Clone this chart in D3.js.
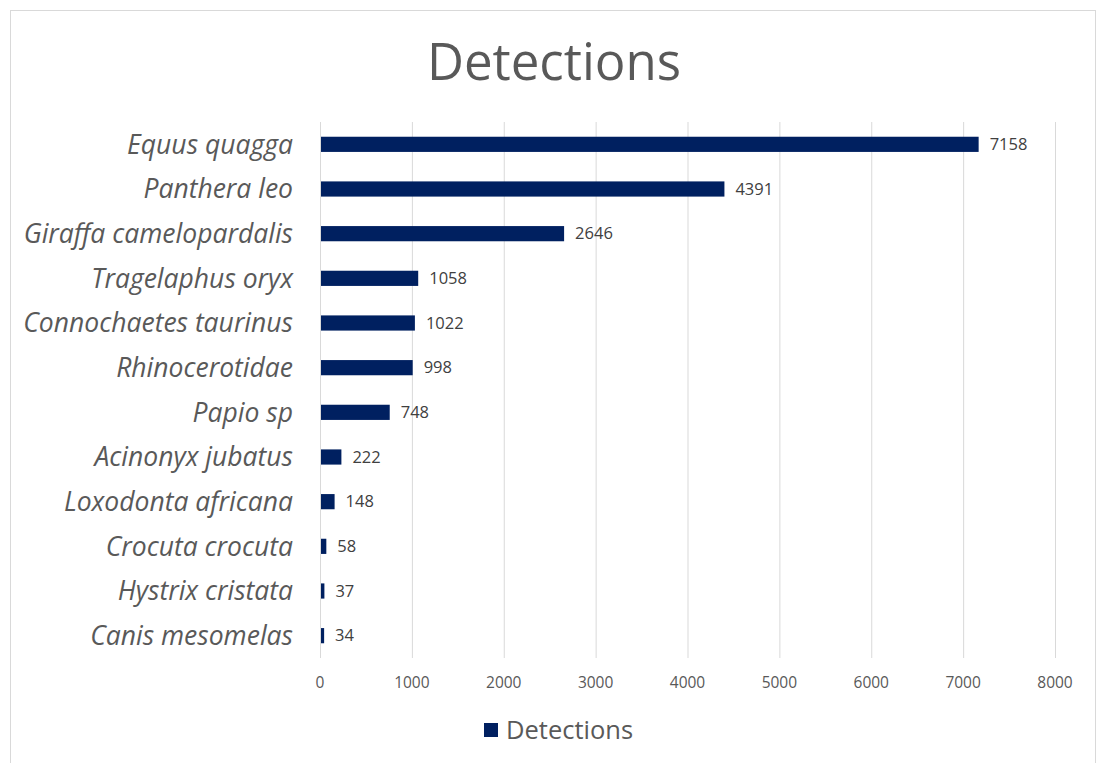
<!DOCTYPE html>
<html>
<head>
<meta charset="utf-8">
<script src="https://cdn.jsdelivr.net/npm/d3@7"></script>
<style>
  body { margin: 0; background: #fff; }
  text { font-family: "Open Sans", "Noto Sans", sans-serif; }
</style>
</head>
<body>
<div id="chart"></div>
<script>
// data
const species = ["Equus quagga", "Panthera leo", "Giraffa camelopardalis", "Tragelaphus oryx",
  "Connochaetes taurinus", "Rhinocerotidae", "Papio sp", "Acinonyx jubatus",
  "Loxodonta africana", "Crocuta crocuta", "Hystrix cristata", "Canis mesomelas"];
const detections = [7158, 4391, 2646, 1058, 1022, 998, 748, 222, 148, 58, 37, 34];
const xTicks = [0, 1000, 2000, 3000, 4000, 5000, 6000, 7000, 8000];

const width = 1104, height = 763;
const margin = { left: 320, right: 49, top: 122, bottom: 105 }; // plot area
const barColor = "#002060";

const svg = d3.select("#chart").append("svg")
  .attr("width", width).attr("height", height);

// chart border
svg.append("rect")
  .attr("x", 10.5).attr("y", 10.5)
  .attr("width", 1085).attr("height", 770)
  .attr("fill", "none").attr("stroke", "#d9d9d9");

const x = d3.scaleLinear().domain([0, 8000]).range([margin.left, width - margin.right]);
const y = d3.scaleBand().domain(species)
  .range([margin.top, height - margin.bottom]).paddingInner(0.66).paddingOuter(0.33);

// gridlines
svg.append("g").selectAll("line").data(xTicks).join("line")
  .attr("x1", d => x(d) + 0.5).attr("x2", d => x(d) + 0.5)
  .attr("y1", margin.top).attr("y2", height - margin.bottom)
  .attr("stroke", "#d9d9d9").attr("stroke-width", 1);

// x axis labels
svg.append("g").selectAll("text").data(xTicks).join("text")
  .attr("x", d => x(d)).attr("y", height - margin.bottom + 30)
  .attr("text-anchor", "middle")
  .attr("font-size", 15.5).attr("fill", "#595959")
  .text(d => d);

// bars
svg.append("g").selectAll("rect").data(detections).join("rect")
  .attr("x", x(0) + 1)
  .attr("y", (d, i) => y(species[i]))
  .attr("width", d => x(d) - x(0))
  .attr("height", y.bandwidth())
  .attr("fill", barColor);

// value labels
svg.append("g").selectAll("text").data(detections).join("text")
  .attr("x", d => x(d) + 12)
  .attr("y", (d, i) => y(species[i]) + y.bandwidth() / 2)
  .attr("dy", "0.35em")
  .attr("font-size", 16.5).attr("fill", "#404040")
  .text(d => d);

// category labels
svg.append("g").selectAll("text").data(species).join("text")
  .attr("x", 293)
  .attr("y", d => y(d) + y.bandwidth() / 2)
  .attr("dy", "0.35em")
  .attr("text-anchor", "end")
  .attr("font-size", 26.5).attr("font-style", "italic").attr("fill", "#595959")
  .attr("textLength", null)
  .text(d => d);

// title
svg.append("text")
  .attr("x", 554).attr("y", 80)
  .attr("text-anchor", "middle")
  .attr("font-size", 51).attr("fill", "#595959")
  .text("Detections");

// legend
const legend = svg.append("g").attr("transform", "translate(484,723)");
legend.append("rect").attr("width", 14).attr("height", 14).attr("fill", barColor);
legend.append("text").attr("x", 22).attr("y", 7).attr("dy", "0.35em")
  .attr("font-size", 25.5).attr("fill", "#595959").text("Detections");
</script>
</body>
</html>
